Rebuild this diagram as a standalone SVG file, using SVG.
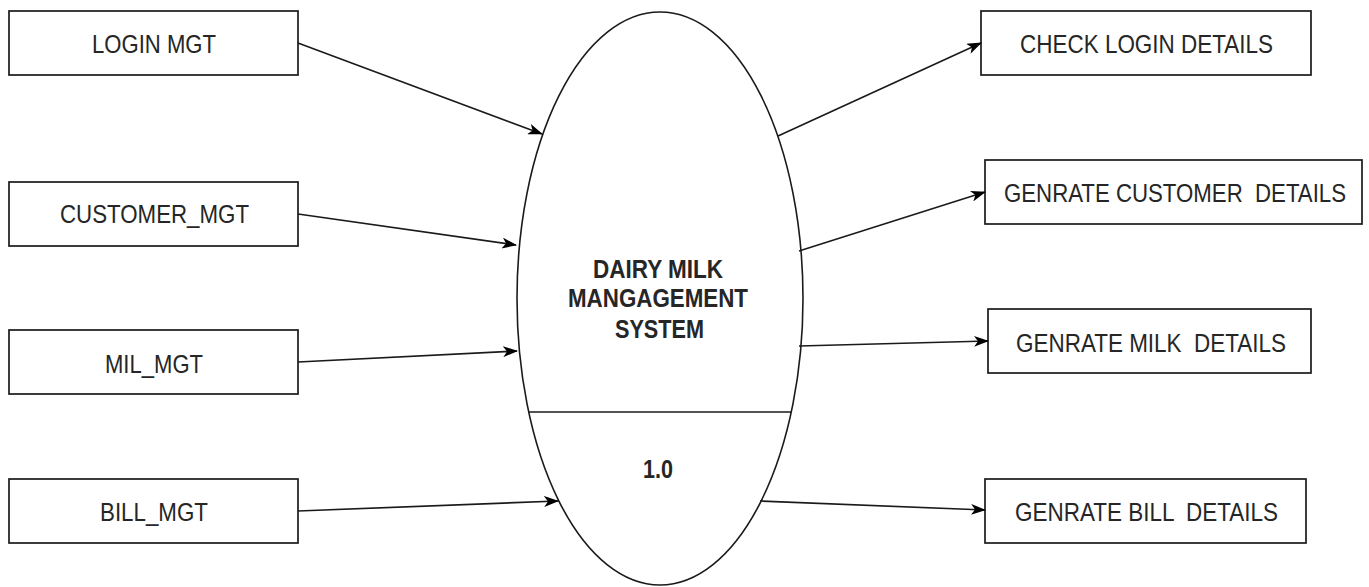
<svg xmlns="http://www.w3.org/2000/svg" width="1369" height="587" viewBox="0 0 1369 587">
<style>
.box{fill:#fff;stroke:#1a1a1a;stroke-width:1.7}
.t{font-family:"Liberation Sans",Arial,sans-serif;font-size:26.5px;fill:#262626}
.b{font-family:"Liberation Sans",Arial,sans-serif;font-size:25px;font-weight:bold;fill:#262626}
.c{fill:none;stroke:#1a1a1a;stroke-width:1.6}
</style>
<defs>
<marker id="arr" viewBox="0 0 15 11" refX="14" refY="5.5" markerWidth="15" markerHeight="11" markerUnits="userSpaceOnUse" orient="auto">
<path d="M0,0 L15,5.5 L0,11 L4,5.5 Z" fill="#000"/>
</marker>
</defs>
<rect width="1369" height="587" fill="#fff"/>
<g id="process">
<ellipse cx="660" cy="298.5" rx="143" ry="286.5" fill="#fff" stroke="#1a1a1a" stroke-width="1.6"/>
<line x1="529" y1="412" x2="791" y2="412" stroke="#1a1a1a" stroke-width="1.6"/>
<text class="b" x="593" y="278" textLength="130" lengthAdjust="spacingAndGlyphs">DAIRY MILK</text>
<text class="b" x="568" y="307" textLength="180" lengthAdjust="spacingAndGlyphs">MANGAGEMENT</text>
<text class="b" x="615" y="338" textLength="89" lengthAdjust="spacingAndGlyphs">SYSTEM</text>
<text class="b" x="643" y="478" textLength="30" lengthAdjust="spacingAndGlyphs">1.0</text>
</g>
<g id="login-mgt">
<rect class="box" x="9" y="11" width="289" height="64"/>
<text class="t" x="92" y="53" textLength="124" lengthAdjust="spacingAndGlyphs">LOGIN MGT</text>
</g>
<g id="customer-mgt">
<rect class="box" x="9" y="182" width="289" height="64"/>
<text class="t" x="60" y="223" textLength="189" lengthAdjust="spacingAndGlyphs">CUSTOMER_MGT</text>
</g>
<g id="mil-mgt">
<rect class="box" x="9" y="330" width="289" height="64"/>
<text class="t" x="105" y="373" textLength="98" lengthAdjust="spacingAndGlyphs">MIL_MGT</text>
</g>
<g id="bill-mgt">
<rect class="box" x="9" y="479" width="289" height="64"/>
<text class="t" x="100" y="521" textLength="108" lengthAdjust="spacingAndGlyphs">BILL_MGT</text>
</g>
<g id="check-login">
<rect class="box" x="981" y="11" width="330" height="64"/>
<text class="t" x="1020" y="53" textLength="253" lengthAdjust="spacingAndGlyphs">CHECK LOGIN DETAILS</text>
</g>
<g id="genrate-customer">
<rect class="box" x="985" y="160" width="377" height="64"/>
<text class="t" x="1004" y="202" textLength="342" lengthAdjust="spacingAndGlyphs" xml:space="preserve">GENRATE CUSTOMER  DETAILS</text>
</g>
<g id="genrate-milk">
<rect class="box" x="988" y="309" width="323" height="64"/>
<text class="t" x="1016" y="352" textLength="270" lengthAdjust="spacingAndGlyphs" xml:space="preserve">GENRATE MILK  DETAILS</text>
</g>
<g id="genrate-bill">
<rect class="box" x="985" y="479" width="321" height="64"/>
<text class="t" x="1015" y="521" textLength="263" lengthAdjust="spacingAndGlyphs" xml:space="preserve">GENRATE BILL  DETAILS</text>
</g>
<g id="connectors">
<line class="c" x1="298" y1="43" x2="542" y2="134" marker-end="url(#arr)"/>
<line class="c" x1="298" y1="214" x2="516" y2="245" marker-end="url(#arr)"/>
<line class="c" x1="298" y1="362" x2="517" y2="351" marker-end="url(#arr)"/>
<line class="c" x1="298" y1="511" x2="558" y2="501" marker-end="url(#arr)"/>
<line class="c" x1="778" y1="136" x2="981" y2="43" marker-end="url(#arr)"/>
<line class="c" x1="799" y1="251" x2="985" y2="192" marker-end="url(#arr)"/>
<line class="c" x1="799" y1="346" x2="988" y2="341" marker-end="url(#arr)"/>
<line class="c" x1="760" y1="501" x2="985" y2="510" marker-end="url(#arr)"/>
</g>
</svg>
